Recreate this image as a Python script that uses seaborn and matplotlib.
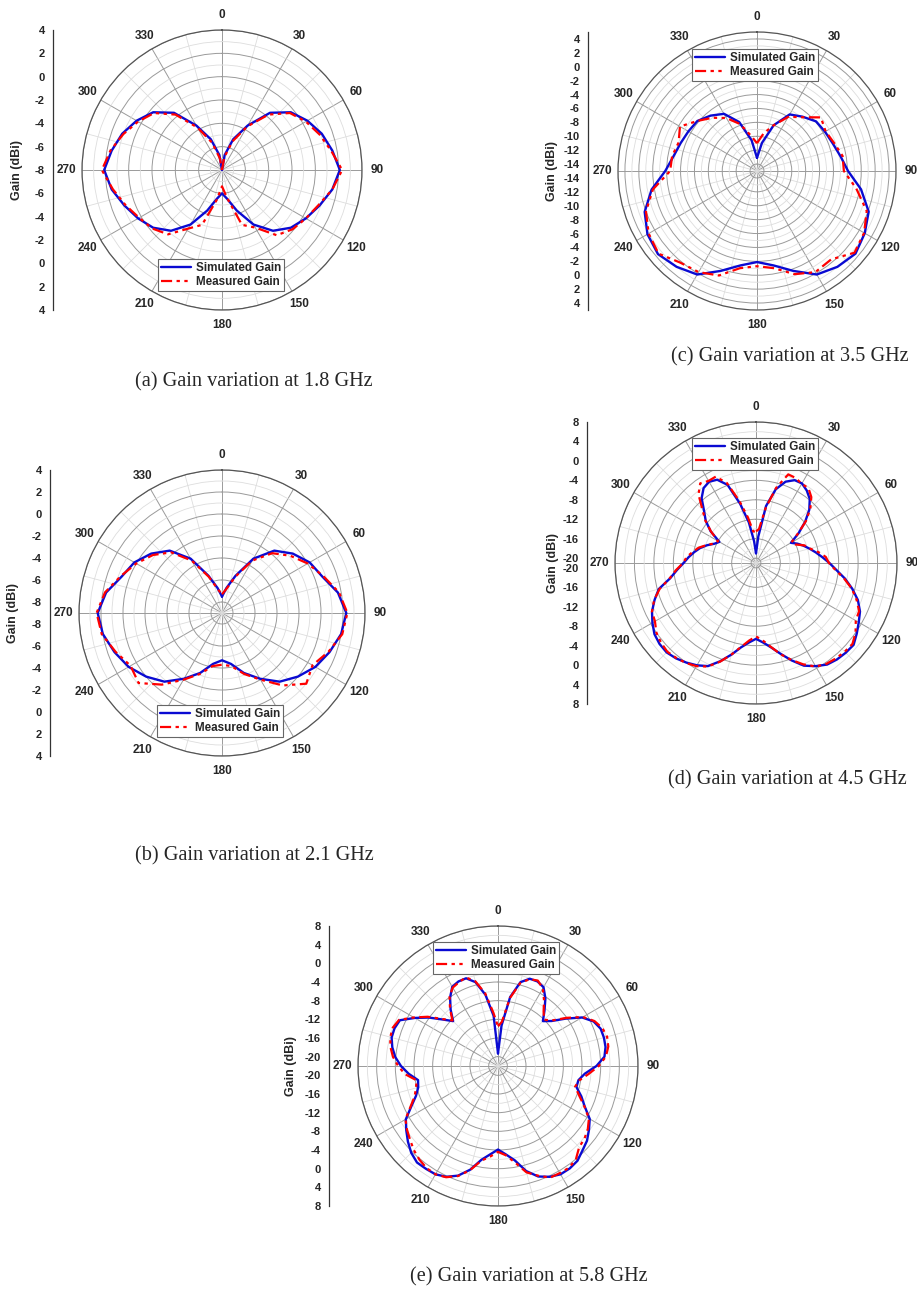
import numpy as np
import pandas as pd
import matplotlib
matplotlib.use("Agg")
import matplotlib.pyplot as plt
import seaborn as sns
from matplotlib.lines import Line2D

sns.set_style("white")
plt.rcParams["font.family"] = ["Liberation Sans", "DejaVu Sans"]
plt.rcParams["font.weight"] = "bold"

# ---------------- data (gain in dBi) ----------------
ANG10 = list(range(0, 360, 10))
ANG5 = list(range(0, 360, 5))
ANGLE_TICKS = list(range(0, 360, 30))

SIM_A = [-8.0, -6.7, -5.2, -3.6, -1.6, -0.3, 0.45, 1.1, 1.6, 2.1, 1.6, 0.9, 0.3, -0.3, -1.2, -2.6, -4.3, -5.5,
         -6.0, -5.5, -4.3, -2.6, -1.2, -0.3, 0.3, 0.9, 1.6, 2.1, 1.6, 1.1, 0.45, -0.3, -1.6, -3.6, -5.2, -6.7]
MEAS_A = [-8.0, -6.9, -5.4, -3.7, -1.8, -0.4, 0.3, 0.9, 1.5, 2.3, 1.6, 0.8, 0.3, -0.1, -0.7, -2.3, -3.0, -5.6,
          -6.6, -5.4, -3.0, -2.2, -0.8, -0.2, 0.2, 0.8, 1.5, 2.3, 1.7, 1.0, 0.3, -0.4, -1.8, -3.8, -5.5, -7.0]

SIM_B = [-7.5, -6.7, -5.4, -3.3, -1.6, -0.6, 0.2, 0.7, 1.7, 2.3, 2.0, 1.4, 0.8, 0.0, -0.85, -2.1, -3.2, -4.3,
         -4.7, -4.3, -3.2, -2.1, -0.85, 0.0, 0.8, 1.4, 2.0, 2.3, 1.7, 0.7, 0.2, -0.6, -1.6, -3.3, -5.4, -6.7]
MEAS_B = [-7.3, -6.8, -5.5, -3.5, -1.9, -0.9, 0.0, 0.8, 1.8, 2.4, 2.1, 1.3, 0.5, 1.0, -0.4, -2.0, -3.1, -4.1,
          -4.3, -4.1, -3.1, -2.0, -0.5, 0.9, 0.6, 1.3, 2.1, 2.4, 1.8, 0.8, 0.0, -0.8, -1.8, -3.5, -5.5, -6.8]

SIM_C = [-13.1, -10.9, -8.0, -5.6, -4.8, -3.9, -3.7, -3.4, -2.8, -1.9, 0.2, 2.1, 2.9, 3.5, 3.0, 2.2, 0.3, -1.2,
         -1.9, -1.2, 0.3, 2.2, 3.0, 3.6, 3.2, 2.2, 0.4, -1.8, -2.8, -3.3, -3.6, -3.8, -4.6, -5.5, -7.5, -10.5]
MEAS_C = [-11.0, -9.5, -8.0, -6.0, -4.9, -3.0, -3.6, -3.2, -2.5, -2.5, -0.5, 1.8, 2.8, 3.3, 1.6, 1.8, 0.8, -0.8,
          -1.3, -0.8, 1.0, 1.8, 2.2, 3.5, 3.0, 2.0, 0.2, -2.5, -2.6, -3.0, -2.2, -3.8, -5.0, -6.2, -7.8, -9.8]

SIM_D = [-19.0, -15.5, -9.1, -5.3, -3.2, -2.2, -2.1, -2.8, -3.8, -5.5, -7.8, -10.3, -12.7, -11.6, -10.6, -9.6,
         -8.5, -7.3, -5.9, -4.4, -2.4, -0.5, 1.3, 2.6, 3.4, 4.3, 5.2, 5.1, 4.9, 4.5, 3.5, 2.3, 0.3, -1.7, -3.4, -4.6,
         -5.4, -4.6, -3.4, -1.5, 0.5, 2.4, 3.3, 4.0, 4.6, 5.0, 4.9, 4.5, 3.6, 2.6, 1.2, -0.3, -3.1, -4.7, -6.1, -7.1,
         -8.1, -9.1, -10.3, -11.6, -12.3, -9.6, -7.5, -5.9, -3.6, -2.2, -1.7, -2.1, -3.9, -8.4, -12.5, -16.5]
MEAS_D = [-14.5, -14.0, -9.5, -5.0, -1.6, -1.7, -2.2, -2.2, -3.3, -5.2, -7.6, -10.5, -12.6, -12.0, -10.4, -9.5,
          -8.0, -6.6, -6.0, -4.6, -2.6, -0.6, 1.0, 2.4, 2.7, 4.0, 4.9, 4.8, 4.6, 4.3, 3.6, 2.0, 0.2, -1.6, -3.5, -5.0,
          -5.9, -5.0, -3.5, -1.5, 0.6, 2.5, 3.5, 4.1, 4.5, 4.8, 4.5, 4.0, 3.0, 2.6, 1.3, -0.5, -3.0, -4.5, -6.0, -6.7,
          -7.8, -8.8, -10.2, -11.5, -12.0, -9.7, -7.4, -5.4, -2.6, -1.0, -1.5, -1.4, -3.5, -7.8, -11.5, -14.5]

SIM_E = [-19.3, -13.3, -7.0, -3.4, -2.1, -2.0, -2.5, -4.3, -6.5, -8.4, -7.0, -4.3, -1.2, 0.6, 1.4, 1.5, 1.4, 0.9,
         -0.9, -3.3, -4.5, -4.6, -3.0, -1.5, 0.7, 1.8, 2.9, 3.6, 4.5, 4.8, 4.8, 4.2, 3.2, 1.3, -1.5, -3.0,
         -4.1, -3.0, -1.6, 1.0, 3.0, 4.2, 4.8, 4.9, 5.0, 4.3, 3.2, 2.0, 0.8, -1.5, -3.3, -4.3, -4.6, -2.8,
         -1.2, 0.1, 1.0, 1.6, 1.6, 1.2, -1.4, -3.9, -6.5, -8.4, -6.2, -4.1, -2.4, -2.0, -2.0, -3.4, -6.5, -11.2]
MEAS_E = [-13.5, -12.5, -7.2, -3.6, -2.2, -1.8, -2.8, -4.8, -6.8, -8.0, -6.8, -4.0, -1.0, 0.8, 1.8, 2.2, 2.0, 1.2,
          -0.4, -2.5, -4.3, -4.9, -3.5, -1.6, 0.5, 1.5, 2.2, 2.6, 4.0, 4.6, 4.5, 4.4, 3.0, 1.6, -1.0, -2.8,
          -3.6, -2.5, -1.4, 1.1, 3.1, 4.3, 4.8, 4.7, 4.2, 3.5, 2.6, 1.8, 0.9, -1.3, -3.0, -3.8, -4.3, -2.0,
          -0.6, 0.6, 1.4, 1.9, 2.0, 1.4, -1.2, -3.6, -6.3, -8.2, -6.0, -3.9, -2.6, -2.2, -1.8, -3.2, -6.2, -10.5]

CAPTIONS = ["(a) Gain variation at 1.8 GHz", "(b) Gain variation at 2.1 GHz", "(c) Gain variation at 3.5 GHz",
            "(d) Gain variation at 4.5 GHz", "(e) Gain variation at 5.8 GHz"]
LEGEND_LABELS = ["Simulated Gain", "Measured Gain"]

# ---------------- layout (pixels) ----------------
W, H = 917, 1294
BLUE = "#0a0ad2"
RED = "#ff0000"
DASHDOTDOT = (0, (5, 2, 1.5, 2, 1.5, 2))

panels = [
    dict(ang=ANG10, sim=SIM_A, meas=MEAS_A, cx=222, cy=170, R=140, rmin=-8, rmax=4, major=2, minor=1,
         axis_x=53, ylab_x=17, leg=(158, 259), cap=CAPTIONS[0], cap_xy=(135, 382)),
    dict(ang=ANG10, sim=SIM_B, meas=MEAS_B, cx=222, cy=613, R=143, rmin=-9, rmax=4, major=2, minor=1,
         axis_x=50, ylab_x=13, leg=(157, 705), cap=CAPTIONS[1], cap_xy=(135, 856)),
    dict(ang=ANG10, sim=SIM_C, meas=MEAS_C, cx=757, cy=171, R=139, rmin=-15, rmax=5, major=2, minor=1,
         axis_x=588, ylab_x=552, leg=(692, 49), cap=CAPTIONS[2], cap_xy=(671, 357)),
    dict(ang=ANG5, sim=SIM_D, meas=MEAS_D, cx=756, cy=563, R=141, rmin=-21, rmax=8, major=4, minor=2,
         axis_x=587, ylab_x=553, leg=(692, 438), cap=CAPTIONS[3], cap_xy=(668, 780)),
    dict(ang=ANG5, sim=SIM_E, meas=MEAS_E, cx=498, cy=1066, R=140, rmin=-22, rmax=8, major=4, minor=2,
         axis_x=329, ylab_x=291, leg=(433, 942), cap=CAPTIONS[4], cap_xy=(410, 1277)),
]

fig = plt.figure(figsize=(W / 100, H / 100), dpi=100)
fig.patch.set_facecolor("white")

for p in panels:
    cx, cy, R = p["cx"], p["cy"], p["R"]
    rmin, rmax = p["rmin"], p["rmax"]
    ax = fig.add_axes([(cx - R) / W, (H - cy - R) / H, 2 * R / W, 2 * R / H], projection="polar")
    ax.set_facecolor("white")
    ax.set_theta_zero_location("N")
    ax.set_theta_direction(-1)

    ang = list(p["ang"]) + [360]
    df = pd.DataFrame({
        "theta": np.deg2rad(ang),
        "sim": list(p["sim"]) + [p["sim"][0]],
        "meas": list(p["meas"]) + [p["meas"][0]],
    })
    sns.lineplot(data=df, x="theta", y="sim", ax=ax, color=BLUE, linewidth=1.7, sort=False, estimator=None,
                 zorder=4)
    sns.lineplot(data=df, x="theta", y="meas", ax=ax, color=RED, linewidth=1.6, sort=False, estimator=None,
                 linestyle=DASHDOTDOT, zorder=5)
    ax.set_xlabel("")
    ax.set_ylabel("")
    ax.set_rlim(rmin, rmax)

    majors = [v for v in range(int(np.ceil(rmin)), int(rmax) + 1) if v % p["major"] == 0 and v > rmin]
    minors = [v for v in range(int(np.ceil(rmin)), int(rmax) + 1)
              if v % p["minor"] == 0 and v % p["major"] != 0 and v > rmin]
    ax.set_yticks(majors)
    ax.set_yticks(minors, minor=True)
    ax.set_yticklabels([])
    ax.set_xticks(np.deg2rad(ANGLE_TICKS))
    ax.set_xticklabels([str(a) for a in ANGLE_TICKS], fontsize=8.5, fontweight="bold")
    ax.set_xticks(np.deg2rad(np.arange(15, 360, 30)), minor=True)
    ax.tick_params(axis="x", which="major", pad=4, length=0)
    ax.tick_params(axis="x", which="minor", length=0)
    ax.tick_params(axis="y", which="both", length=0)
    ax.grid(True, which="major", color="#9a9a9a", linewidth=0.7)
    ax.grid(True, which="minor", color="#dddddd", linewidth=0.6)
    ax.spines["polar"].set_color("#555555")
    ax.spines["polar"].set_linewidth(0.9)

    # Left radial scale
    span = rmax - rmin
    lax = fig.add_axes([p["axis_x"] / W, (H - cy - R) / H, 0.0005, 2 * R / H])
    lax.set_ylim(-span, span)
    lax.set_xlim(0, 1)
    for s in ["top", "right", "bottom"]:
        lax.spines[s].set_visible(False)
    lax.spines["left"].set_color("#333333")
    lax.spines["left"].set_linewidth(0.9)
    lax.set_xticks([])
    pos, lab = [], []
    for v in majors[::-1]:
        pos.append(v - rmin); lab.append(str(v))
    if rmin % p["major"] == 0:
        pos.append(0); lab.append(str(rmin))
    for v in majors:
        pos.append(-(v - rmin)); lab.append(str(v))
    mpos = [v - rmin for v in minors] + [-(v - rmin) for v in minors]
    lax.set_yticks(pos)
    lax.set_yticklabels(lab, fontsize=8, fontweight="bold")
    lax.set_yticks(mpos, minor=True)
    lax.tick_params(axis="y", which="major", direction="out", length=4, width=0.8, pad=2, color="#333333")
    lax.tick_params(axis="y", which="minor", direction="out", length=2, width=0.6, color="#333333")
    lax.patch.set_alpha(0)

    fig.text(p["ylab_x"] / W, 1 - cy / H, "Gain (dBi)", rotation=90, ha="center", va="center",
             fontsize=9, fontweight="bold")

    handles = [Line2D([], [], color=BLUE, linewidth=1.7),
               Line2D([], [], color=RED, linewidth=1.6, linestyle=DASHDOTDOT)]
    lx, ly = p["leg"]
    leg = fig.legend(handles, LEGEND_LABELS, loc="upper left", bbox_to_anchor=(lx / W, 1 - ly / H),
                     frameon=True, fancybox=False, edgecolor="#666666", framealpha=1,
                     prop={"size": 8.4, "weight": "bold"}, handlelength=2.6, handletextpad=0.4,
                     borderpad=0.25, labelspacing=0.15, borderaxespad=0)
    leg.get_frame().set_linewidth(0.8)

    fig.text(p["cap_xy"][0] / W, 1 - p["cap_xy"][1] / H, p["cap"], ha="left", va="center",
             fontsize=14.6, fontweight="normal", family=["Liberation Serif", "DejaVu Serif"])

fig.savefig("out.png", dpi=100, facecolor="white")
